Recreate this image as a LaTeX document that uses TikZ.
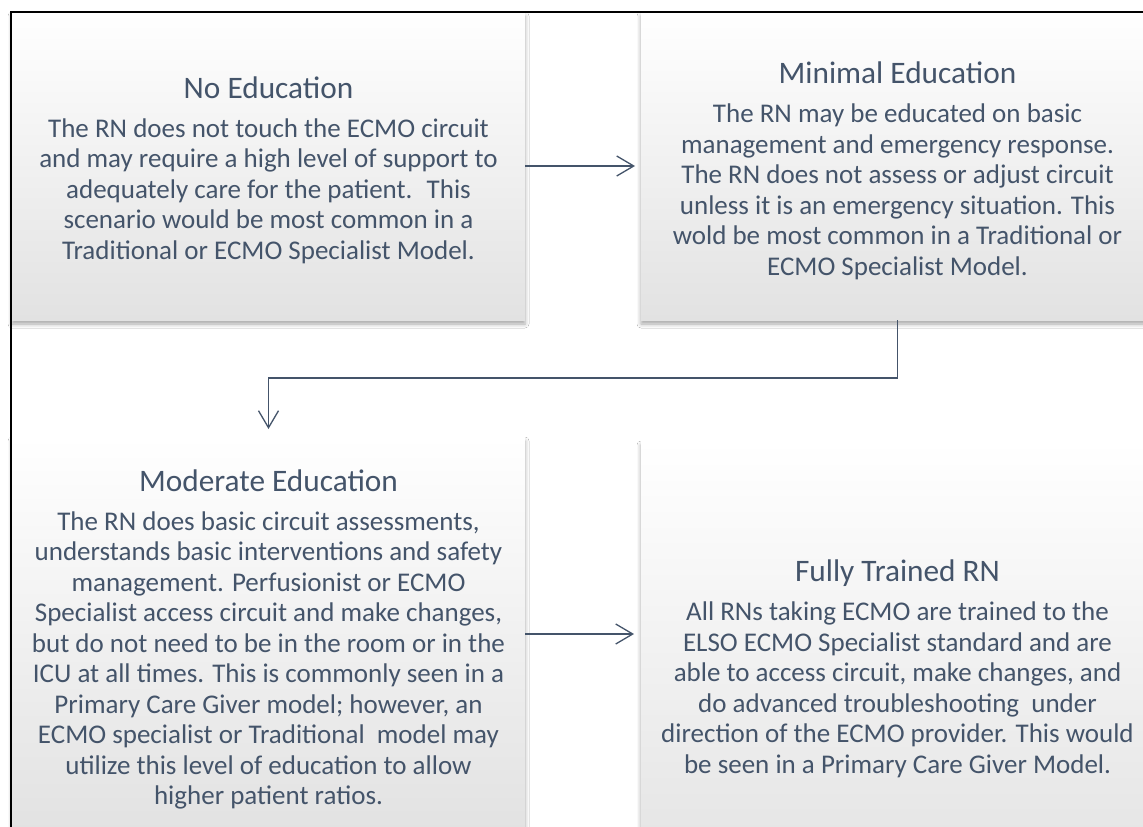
\documentclass[tikz,border=0pt]{standalone}
\usepackage{fontspec}
\setmainfont{Carlito}
\usetikzlibrary{arrows.meta,shadows.blur}
\definecolor{inkblue}{HTML}{44546A}
\definecolor{boxbot}{HTML}{E2E2E2}
\tikzset{
  stagebox/.style={
    draw=none, top color=white, bottom color=boxbot,
    minimum width=513pt, inner sep=0pt, outer sep=0pt,
    blur shadow={shadow xshift=0pt, shadow yshift=-4pt,
                 shadow blur radius=4pt, shadow opacity=35}},
  stagetext/.style={align=center, text=inkblue, inner sep=0pt,
    font=\fontsize{27}{30.5}\selectfont},
  flow/.style={draw=inkblue, line width=1.3pt,
    -{Straight Barb[length=17pt,width=20pt,line width=1.3pt]}},
}
\newcommand{\stagetitle}[1]{{\fontsize{31.3}{30.5}\selectfont #1}\\[8.5pt]}
\begin{document}
\begin{tikzpicture}[x=1pt,y=-1pt]
  \useasboundingbox (0,0) rectangle (1143,827);
  \clip (0,0) rectangle (1143,827);
  \fill[white] (0,0) rectangle (1143,827);

  % the four education levels
  \node[stagebox, minimum height=308pt] (b1) at (268.5,166) {};
  \node[stagebox, minimum height=308pt] (b2) at (897.5,166) {};
  \node[stagebox, minimum height=394pt] (b3) at (268.5,634) {};
  \node[stagebox, minimum height=454pt] (b4) at (897.5,668) {};

  \node[stagetext] (t1) at ([yshift=-4pt]b1.center) {\stagetitle{No Education}
    The RN does not touch the ECMO circuit\\
    and may require a high level of support to\\
    adequately care for the patient.~ This\\
    scenario would be most common in a\\
    Traditional or ECMO Specialist Model.};
  \node[stagetext] (t2) at ([yshift=-5pt]b2.center) {\stagetitle{Minimal Education}
    The RN may be educated on basic\\
    management and emergency response.\\
    The RN does not assess or adjust circuit\\
    unless it is an emergency situation. This\\
    wold be most common in a Traditional or\\
    ECMO Specialist Model.};
  \node[stagetext] (t3) at ([yshift=-5.5pt]b3.center) {\stagetitle{Moderate Education}
    The RN does basic circuit assessments,\\
    understands basic interventions and safety\\
    management. Perfusionist or ECMO\\
    Specialist access circuit and make changes,\\
    but do not need to be in the room or in the\\
    ICU at all times. This is commonly seen in a\\
    Primary Care Giver model; however, an\\
    ECMO specialist or Traditional~ model may\\
    utilize this level of education to allow\\
    higher patient ratios.};
  \node[stagetext] (t4) at ([yshift=-1pt]b4.center) {\stagetitle{Fully Trained RN}
    All RNs taking ECMO are trained to the\\
    ELSO ECMO Specialist standard and are\\
    able to access circuit, make changes, and\\
    do advanced troubleshooting~ under\\
    direction of the ECMO provider. This would\\
    be seen in a Primary Care Giver Model.};

  % connectors between the levels
  \coordinate (turn) at (600,378);
  \draw[flow, shorten >=6pt] (b1.east) -- (b1.east -| b2.west);
  \draw[flow, shorten >=8pt] (b2.south) |- (turn) -| (b3.north);
  \draw[flow, shorten >=7pt] (b3.east) -- (b3.east -| b4.west);

  % outer frame
  \draw[black, line width=2pt] (11,12) rectangle (1170,860);
\end{tikzpicture}
\end{document}
